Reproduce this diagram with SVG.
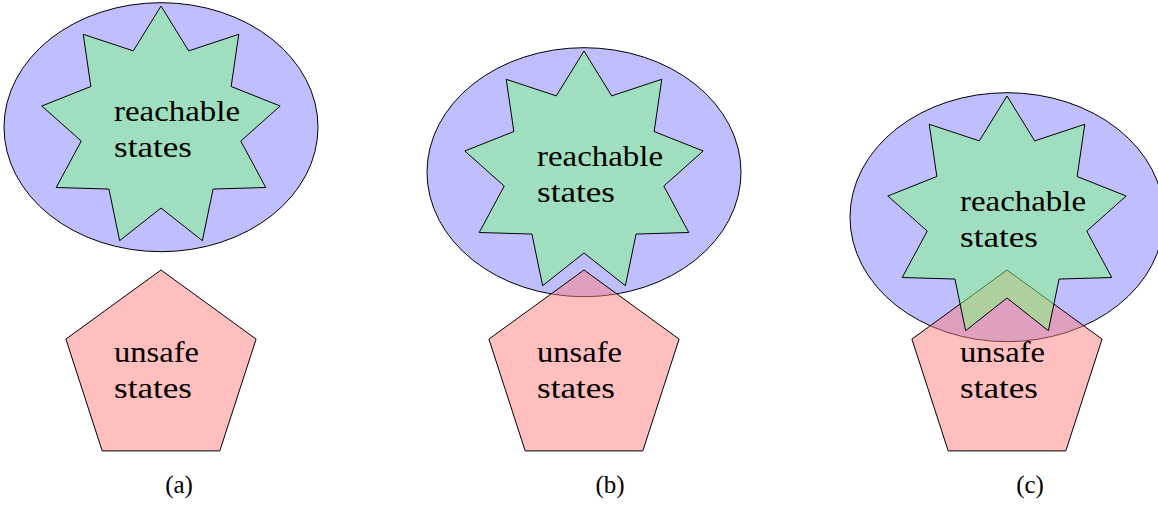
<svg xmlns="http://www.w3.org/2000/svg" xmlns:xlink="http://www.w3.org/1999/xlink" width="1158" height="507" viewBox="0 0 1158 507">
<style>
.ell{fill:rgb(128,128,255);fill-opacity:0.5;stroke:#000;stroke-width:1}
.pent{fill:rgb(255,128,128);fill-opacity:0.5;stroke:#000;stroke-width:1}
.star{fill:rgb(128,255,128);fill-opacity:0.5;stroke:#000;stroke-width:1;stroke-linejoin:miter}
.lbl{font-family:'Liberation Serif','Times New Roman',serif;font-size:29px;fill:#000}
.cap{font-family:'Liberation Serif','Times New Roman',serif;font-size:25px;fill:#000}
</style>
<defs>
<ellipse id="E" cx="0" cy="0" rx="157" ry="124.5"/>
<polygon id="P" points="0,-100 95.1,-30.9 58.8,80.9 -58.8,80.9 -95.1,-30.9"/>
<polygon id="S" points="0,-121 27.70,-76.12 77.78,-92.69 70.15,-40.5 119.16,-21.01 79.77,14.06 104.79,60.5 52.07,62.05 41.38,113.70 0,81 -41.38,113.70 -52.07,62.05 -104.79,60.5 -79.77,14.06 -119.16,-21.01 -70.15,-40.5 -77.78,-92.69 -27.70,-76.12"/>
</defs>
<g id="connectors"></g>
<g id="panel-a">
  <g id="reach-a"><use xlink:href="#E" class="ell" x="161" y="127.2"/></g>
  <g id="unsafe-a"><use xlink:href="#P" class="pent" x="161" y="370"/></g>
  <g id="star-a"><use xlink:href="#S" class="star" x="161" y="127"/></g>
  <text class="lbl" x="114" y="121" textLength="126" lengthAdjust="spacingAndGlyphs">reachable</text>
  <text class="lbl" x="114" y="157" textLength="78" lengthAdjust="spacingAndGlyphs">states</text>
  <text class="lbl" x="114" y="362" textLength="85" lengthAdjust="spacingAndGlyphs">unsafe</text>
  <text class="lbl" x="114" y="398" textLength="78" lengthAdjust="spacingAndGlyphs">states</text>
  <text class="cap" x="179" y="493" text-anchor="middle">(a)</text>
</g>
<g id="panel-b">
  <g id="reach-b"><use xlink:href="#E" class="ell" x="584" y="172.2"/></g>
  <g id="unsafe-b"><use xlink:href="#P" class="pent" x="584" y="370"/></g>
  <g id="star-b"><use xlink:href="#S" class="star" x="584" y="172"/></g>
  <text class="lbl" x="537" y="166" textLength="126" lengthAdjust="spacingAndGlyphs">reachable</text>
  <text class="lbl" x="537" y="202" textLength="78" lengthAdjust="spacingAndGlyphs">states</text>
  <text class="lbl" x="537" y="362" textLength="85" lengthAdjust="spacingAndGlyphs">unsafe</text>
  <text class="lbl" x="537" y="398" textLength="78" lengthAdjust="spacingAndGlyphs">states</text>
  <text class="cap" x="610" y="493" text-anchor="middle">(b)</text>
</g>
<g id="panel-c">
  <g id="reach-c"><use xlink:href="#E" class="ell" x="1007" y="217.2"/></g>
  <g id="unsafe-c"><use xlink:href="#P" class="pent" x="1007" y="370"/></g>
  <g id="star-c"><use xlink:href="#S" class="star" x="1007" y="217"/></g>
  <text class="lbl" x="960" y="211" textLength="126" lengthAdjust="spacingAndGlyphs">reachable</text>
  <text class="lbl" x="960" y="247" textLength="78" lengthAdjust="spacingAndGlyphs">states</text>
  <text class="lbl" x="960" y="362" textLength="85" lengthAdjust="spacingAndGlyphs">unsafe</text>
  <text class="lbl" x="960" y="398" textLength="78" lengthAdjust="spacingAndGlyphs">states</text>
  <text class="cap" x="1030" y="493" text-anchor="middle">(c)</text>
</g>
</svg>
